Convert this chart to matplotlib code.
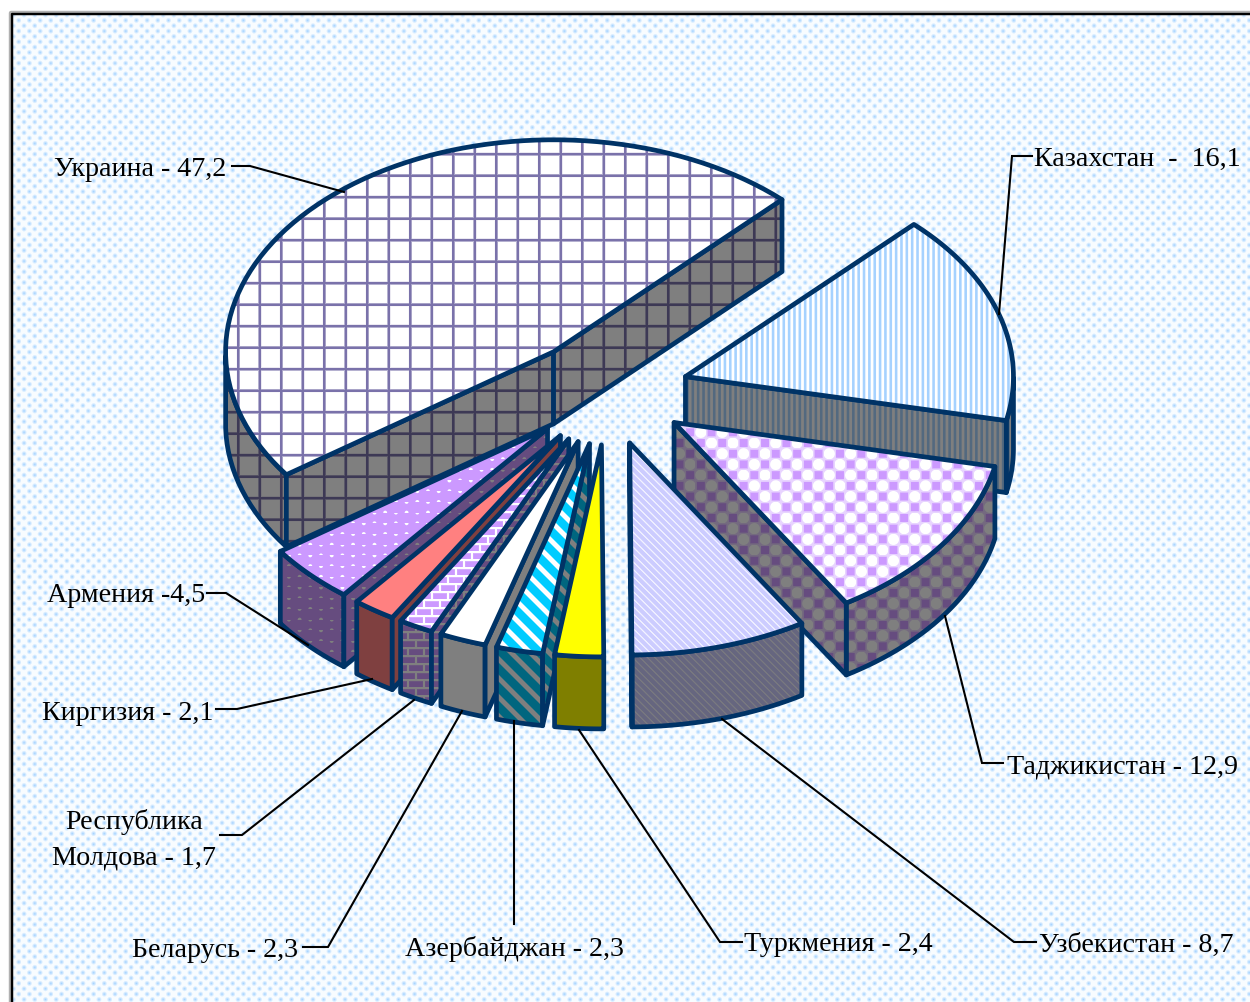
import numpy as np
import matplotlib
matplotlib.use("Agg")
import matplotlib.pyplot as plt
from matplotlib.patches import Polygon

plt.rcParams['font.family'] = ['Liberation Serif', 'DejaVu Serif']

# clockwise from upper right, as in the picture
countries = ["Казахстан", "Таджикистан", "Узбекистан", "Туркмения", "Азербайджан",
             "Беларусь", "Республика Молдова", "Киргизия", "Армения", "Украина"]
shares = [16.1, 12.9, 8.7, 2.4, 2.3, 2.3, 1.7, 2.1, 4.5, 47.2]
labels = ["Казахстан  -  16,1", "Таджикистан - 12,9", "Узбекистан - 8,7", "Туркмения - 2,4",
          "Азербайджан - 2,3", "Беларусь - 2,3", "Республика\nМолдова - 1,7", "Киргизия - 2,1",
          "Армения -4,5", "Украина - 47,2"]

W, H = 1250, 1003
CX, CY = 607, 393
A, B = 328, 212
EXPLODE = 0.25
DEPTH = 72
START = 45.86
OUTLINE = "#003366"


def soft(d):
    return np.clip(d + 0.5, 0, 1)[..., None]


def rgb(c):
    return np.array(matplotlib.colors.to_rgb(c), dtype=np.float32)


def mix(bg, fg, m):
    return bg * (1 - m) + fg * m


def flat(c):
    return lambda X, Y: np.ones(X.shape + (3,), dtype=np.float32) * rgb(c)


def grid(bg, fg, p=21.5, w=2.7):
    def tex(X, Y):
        dx = np.abs((X - 1.8 + p / 2) % p - p / 2)
        dy = np.abs((Y - 4.7 + p / 2) % p - p / 2)
        m = np.maximum(soft(w / 2 - dx), soft(w / 2 - dy))
        return mix(rgb(bg), rgb(fg), m)
    return tex


def vstripes(bg, fg, p=5.35, w=2.6):
    def tex(X, Y):
        return mix(rgb(bg), rgb(fg), soft(w / 2 - np.abs(X % p - p / 2)))
    return tex


def diag(bg, fg, p, w):
    # stripes running down to the right
    def tex(X, Y):
        u = (X - Y) % p
        return mix(rgb(bg), rgb(fg), soft(w / 2 - np.abs(u - p / 2)))
    return tex


def dots(bg, fg, p=21.4, r=1.9):
    def tex(X, Y):
        i = np.abs((X % p) - p / 2)
        i2 = np.abs(((X + p / 2) % p) - p / 2)
        j2 = np.abs(((Y + p / 4) % (p / 2)) - p / 4)
        row = np.floor(Y / (p / 2)) % 2
        d = np.hypot(np.where(row == 0, i, i2), j2)
        return mix(rgb(bg), rgb(fg), soft(r - d))
    return tex


def bricks(bg, fg, bw=16.0, bh=8.0, gap=2.2):
    def tex(X, Y):
        row = np.floor(Y / bh)
        xs = (X + (row % 2) * bw / 2) % bw
        ys = Y % bh
        m = np.minimum(soft(gap / 2 - np.abs(xs - bw / 2) + bw / 2 - gap),
                       soft(ys - gap))
        return mix(rgb(bg), rgb(fg), m)
    return tex


def checks(bg, square, circle, c=10.7):
    def tex(X, Y):
        i = np.floor(X / c)
        j = np.floor(Y / c)
        u = X % c - c / 2
        v = Y % c - c / 2
        odd = ((i + j) % 2 == 0)[..., None]
        m_sq = np.minimum(soft(4.0 - np.abs(u)), soft(4.0 - np.abs(v)))
        m_ci = soft(5.6 - np.hypot(u, v))
        return np.where(odd, mix(rgb(bg), rgb(square), m_sq), mix(rgb(bg), rgb(circle), m_ci))
    return tex


def backdrop(X, Y):
    p = 10.7
    q = 5.35
    col = np.floor(X / q)
    yy = (Y + (col % 2) * q) % p
    d = np.hypot(X % q - q / 2, yy - p / 2)
    m = 0.8 * np.clip(1 - d / 2.9, 0, 1)[..., None]
    return mix(rgb("#f8fcff"), rgb("#8fc8ff"), m)


textures = [
    vstripes("#ffffff", "#a6d2ff"),
    checks("#e8d4ff", "#cc99ff", "#ffffff"),
    diag("#ccccff", "#f2f2ff", 7.4, 1.8),
    flat("#ffff00"),
    diag("#00ccff", "#ffffff", 19.0, 7.0),
    flat("#ffffff"),
    bricks("#ffffff", "#cc99ff"),
    flat("#ff8080"),
    dots("#cc99ff", "#ffffff"),
    grid("#ffffff", "#7a72aa"),
]

# leader lines, x then y in picture pixels
leaders = [
    ([1032, 1012, 999], [157, 157, 315]),
    ([1003, 982, 945], [764, 764, 617]),
    ([1036, 1014, 722], [943, 943, 720]),
    ([742, 720, 579], [943, 943, 731]),
    ([514, 514], [925, 722]),
    ([303, 328, 462], [948, 948, 712]),
    ([220, 242, 414], [836, 836, 701]),
    ([216, 237, 372], [710, 710, 680]),
    ([207, 226, 308], [594, 594, 646]),
    ([232, 250, 344], [167, 167, 193]),
]
label_pos = [(1034, 159), (1007, 767), (1039, 945), (744, 945), (405, 949),
             (132, 951), (134, 840), (42, 713), (47, 596), (54, 169)]

fig = plt.figure(figsize=(W / 100, H / 100), dpi=100, facecolor="white")
ax = fig.add_axes([0, 0, 1, 1])
ax.set_axis_off()


def face(pts, tex, shade=1.0, z=1.0):
    pts = np.asarray(pts)
    x0 = max(int(pts[:, 0].min()) - 2, 0)
    x1 = min(int(pts[:, 0].max()) + 3, W)
    y0 = max(int(pts[:, 1].min()) - 2, 0)
    y1 = min(int(pts[:, 1].max()) + 3, H)
    X, Y = np.meshgrid(np.arange(x0, x1) + 0.5, np.arange(y0, y1) + 0.5)
    img = np.clip(tex(X, Y) * shade, 0, 1)
    clip = Polygon(pts, closed=True, transform=ax.transData)
    im = ax.imshow(img, extent=(x0, x1, y1, y0), interpolation="nearest", aspect="auto", zorder=z)
    im.set_clip_path(clip)
    ax.add_patch(Polygon(pts, closed=True, fill=False, ec=OUTLINE, lw=3.4,
                         joinstyle="round", zorder=z))


# background and frame
face([(11, 14), (W, 14), (W, H), (11, H)], backdrop, z=0)
ax.patches[-1].set_visible(False)
ax.plot([11, 11, W], [H, 14, 14], color="#b0b0b0", lw=3.2, zorder=0.5)
ax.plot([11.5, 11.5, W], [H, 14.5, 14.5], color="black", lw=1.7, zorder=0.6)

# slice angles from the shares, clockwise
sweep = np.array(shares) / sum(shares) * 360
ends = START - np.cumsum(sweep)
starts = ends + sweep

# back to front
order = [9, 0, 1, 2, 8, 7, 6, 5, 4, 3]
for n, idx in enumerate(order):
    t1, t2 = starts[idx], ends[idx]
    mid = np.radians((t1 + t2) / 2)
    px = CX + EXPLODE * A * np.cos(mid)
    py = CY - EXPLODE * B * np.sin(mid)
    tt = np.radians(np.linspace(t1, t2, 80))
    arc_x = px + A * np.cos(tt)
    arc_y = py - B * np.sin(tt)
    top = [(px, py)] + list(zip(arc_x, arc_y))
    z = 1 + n
    tex = textures[idx]

    # rim wall, only the part facing the viewer
    front = np.sin(tt) < 0
    if front.sum() > 1:
        rx, ry = arc_x[front], arc_y[front]
        face(list(zip(rx, ry)) + list(zip(rx[::-1], ry[::-1] + DEPTH)), tex, 0.5, z)

    # flat cut walls where the edge is the lower side of the top
    for q, other in [((arc_x[0], arc_y[0]), (arc_x[-1], arc_y[-1])),
                     ((arc_x[-1], arc_y[-1]), (arc_x[0], arc_y[0]))]:
        if abs(q[0] - px) < 1:
            continue
        on_line = py + (other[0] - px) * (q[1] - py) / (q[0] - px)
        if other[1] < on_line:
            face([(px, py), q, (q[0], q[1] + DEPTH), (px, py + DEPTH)], tex, 0.5, z)

    face(top, tex, 1.0, z + 0.5)

for xs, ys in leaders:
    ax.plot(xs, ys, color="black", lw=1.5, zorder=30, solid_joinstyle="miter")

for i, txt in enumerate(labels):
    x, y = label_pos[i]
    if "\n" in txt:
        ax.text(x, y, txt, ha="center", va="center", fontsize=20.2, color="black",
                linespacing=1.56, zorder=40)
    else:
        ax.text(x, y, txt, ha="left", va="center", fontsize=20.2, color="black", zorder=40)

ax.set_xlim(0, W)
ax.set_ylim(H, 0)
fig.savefig("out.png", dpi=100)
